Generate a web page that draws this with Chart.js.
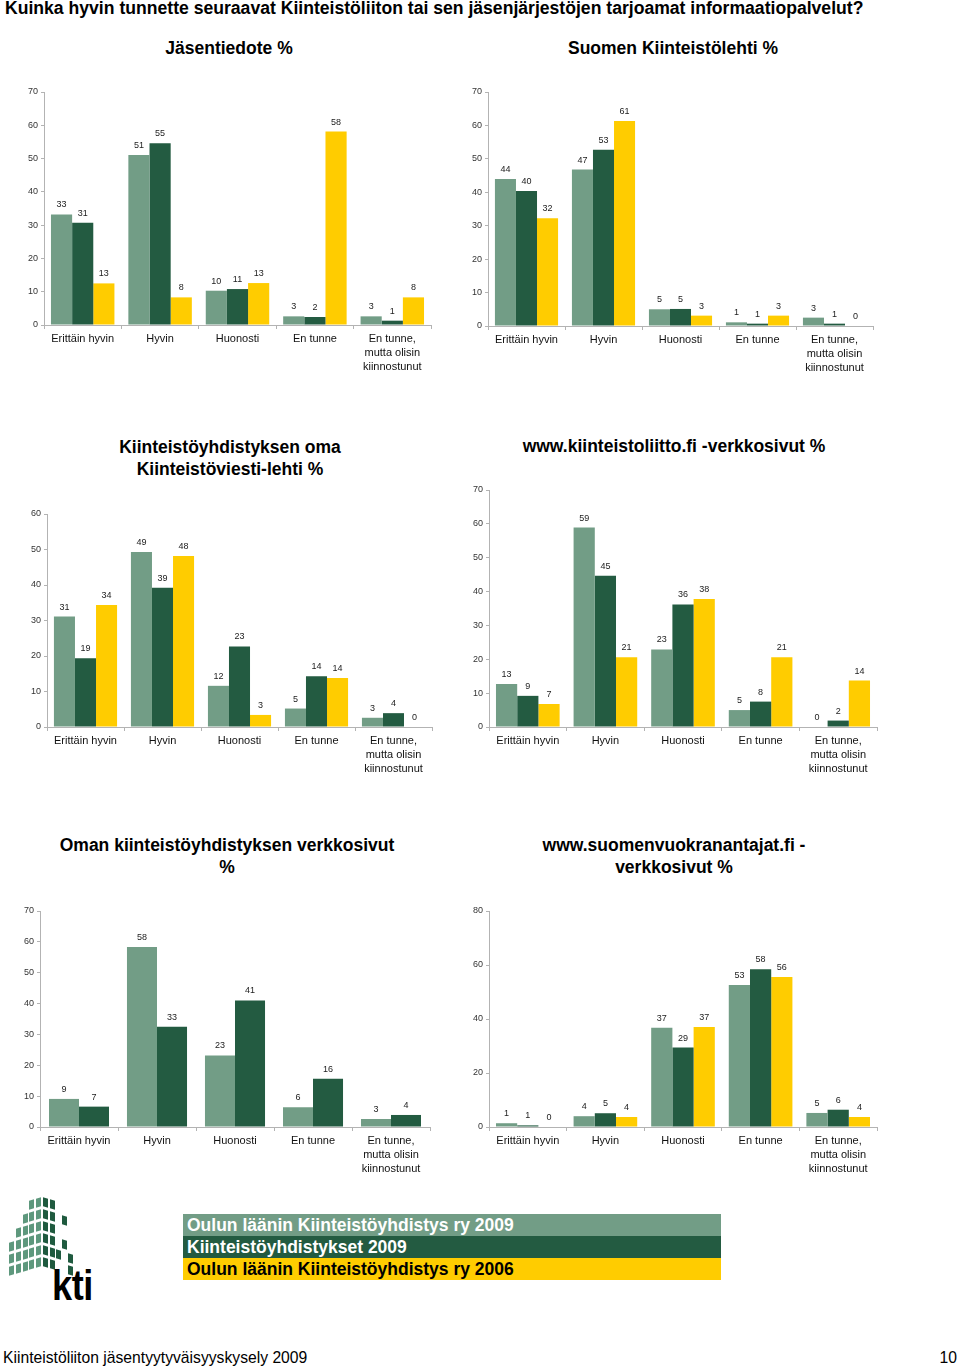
<!DOCTYPE html>
<html>
<head>
<meta charset="utf-8">
<script src="https://cdn.jsdelivr.net/npm/chart.js@4.4.1/dist/chart.umd.min.js"></script>
<style>
  body {
    margin: 0;
    width: 960px;
    height: 1369px;
    position: relative;
    overflow: hidden;
    background: #fff;
    font-family: "Liberation Sans", Arial, sans-serif;
    color: #000;
  }
  .abs { position: absolute; }
  .page-title {
    left: 5px; top: -2px;
    font-size: 17.6px; font-weight: bold; white-space: nowrap;
  }
  .chart-title {
    width: 440px; text-align: center;
    font-size: 17.5px; font-weight: bold; line-height: 22px;
  }
  .legend { left: 183px; top: 1214px; width: 538px; }
  .legend div {
    height: 22px; line-height: 22px; padding-left: 4px;
    font-size: 17.5px; font-weight: bold;
  }
  .footer { left: 3px; top: 1349px; font-size: 15.7px; }
  .page-no { right: 3px; top: 1349px; font-size: 15.7px; }
  .logo-cell { position: absolute; width: 5px; height: 9px; }
  .kti {
    left: 52px; top: 1261px; font-size: 43px; font-weight: bold; line-height: normal;
    transform: scaleX(0.84); transform-origin: left top; letter-spacing: -0.5px;
  }
</style>
</head>
<body>

<div class="abs page-title">Kuinka hyvin tunnette seuraavat Kiinteistöliiton tai sen jäsenjärjestöjen tarjoamat informaatiopalvelut?</div>

<div class="abs chart-title" style="left:9px; top:37px;">Jäsentiedote %</div>
<div class="abs chart-title" style="left:453px; top:37px;">Suomen Kiinteistölehti %</div>
<div class="abs chart-title" style="left:10px; top:436px;">Kiinteistöyhdistyksen oma<br>Kiinteistöviesti-lehti %</div>
<div class="abs chart-title" style="left:454px; top:435px;">www.kiinteistoliitto.fi -verkkosivut %</div>
<div class="abs chart-title" style="left:7px; top:834px;">Oman kiinteistöyhdistyksen verkkosivut<br>%</div>
<div class="abs chart-title" style="left:454px; top:834px;">www.suomenvuokranantajat.fi -<br>verkkosivut %</div>

<canvas id="c1" class="abs"></canvas>
<canvas id="c2" class="abs"></canvas>
<canvas id="c3" class="abs"></canvas>
<canvas id="c4" class="abs"></canvas>
<canvas id="c5" class="abs"></canvas>
<canvas id="c6" class="abs"></canvas>

<div id="logo"></div>
<div class="abs kti">kti</div>

<div class="abs legend" id="legend"></div>

<div class="abs footer">Kiinteistöliiton jäsentyytyväisyyskysely 2009</div>
<div class="abs page-no">10</div>

<script>
const categories = ['Erittäin hyvin', 'Hyvin', 'Huonosti', 'En tunne', ['En tunne,', 'mutta olisin', 'kiinnostunut']];
const seriesNames = ['Oulun läänin Kiinteistöyhdistys ry 2009', 'Kiinteistöyhdistykset 2009', 'Oulun läänin Kiinteistöyhdistys ry 2006'];
const seriesColors = ['#729d86', '#235b41', '#ffcc00'];
const seriesTextColors = ['#fff', '#fff', '#000'];

// Jäsentiedote %
const jasentiedoteOulu09 = [33.2, 51.1, 10.3, 2.6, 2.6];
const jasentiedoteKaikki09 = [30.7, 54.6, 10.8, 2.4, 1.3];
const jasentiedoteOulu06 = [12.5, 8.3, 12.6, 58.1, 8.3];

// Suomen Kiinteistölehti %
const lehtiOulu09 = [44.0, 46.8, 5.0, 1.1, 2.5];
const lehtiKaikki09 = [40.4, 52.7, 5.1, 0.7, 0.7];
const lehtiOulu06 = [32.2, 61.3, 3.1, 3.1, 0];

// Kiinteistöyhdistyksen oma Kiinteistöviesti-lehti %
const viestiOulu09 = [31.1, 49.3, 11.6, 5.2, 2.6];
const viestiKaikki09 = [19.4, 39.2, 22.7, 14.3, 3.9];
const viestiOulu06 = [34.4, 48.2, 3.4, 13.8, 0];

// www.kiinteistoliitto.fi -verkkosivut %
const liittoOulu09 = [12.7, 58.9, 22.9, 5.0, 0];
const liittoKaikki09 = [9.2, 44.7, 36.2, 7.5, 1.9];
const liittoOulu06 = [6.8, 20.6, 37.8, 20.6, 13.7];

// Oman kiinteistöyhdistyksen verkkosivut %
const omaOulu09 = [9.1, 58.3, 23.2, 6.4, 2.6];
const omaKaikki09 = [6.6, 32.5, 41.0, 15.6, 3.9];

// www.suomenvuokranantajat.fi -verkkosivut %
const vuokraOulu09 = [1.4, 4.0, 36.8, 52.6, 5.2];
const vuokraKaikki09 = [0.6, 5.1, 29.4, 58.4, 6.4];
const vuokraOulu06 = [0, 3.7, 37.0, 55.6, 3.7];

const FONT = '"Liberation Sans", Arial, sans-serif';
const AXIS_COLOR = '#b3b3b3';

const valueLabels = {
  id: 'valueLabels',
  afterDatasetsDraw(chart) {
    const ctx = chart.ctx;
    ctx.save();
    ctx.font = '9px ' + FONT;
    ctx.fillStyle = '#222';
    ctx.textAlign = 'center';
    ctx.textBaseline = 'alphabetic';
    chart.data.datasets.forEach((ds, i) => {
      chart.getDatasetMeta(i).data.forEach((bar, j) => {
        ctx.fillText(String(Math.round(ds.data[j])), bar.x, bar.y - 7);
      });
    });
    ctx.restore();
  }
};

const makeChart = (id, box, yMax, yStep, series) => {
  const yWidth = 40, xHeight = 60, padTop = 12, padRight = 14;
  const canvas = document.getElementById(id);
  canvas.width = box.right - box.axisX + yWidth + padRight;
  canvas.height = box.bottom - box.top + padTop + xHeight;
  canvas.style.left = (box.axisX - yWidth) + 'px';
  canvas.style.top = (box.top - padTop) + 'px';

  new Chart(canvas, {
    type: 'bar',
    data: {
      labels: categories,
      datasets: series.map((data, i) => ({
        label: seriesNames[i],
        data: data,
        backgroundColor: seriesColors[i],
        borderWidth: 0,
        barPercentage: 1,
        categoryPercentage: series.length === 2 ? 0.77 : 0.82,
      })),
    },
    options: {
      responsive: false,
      animation: false,
      layout: { padding: { top: padTop, right: padRight, left: 0, bottom: 0 } },
      plugins: {
        legend: { display: false },
        tooltip: { enabled: false },
      },
      scales: {
        x: {
          afterFit: (scale) => { scale.height = xHeight; },
          grid: { drawOnChartArea: false, tickLength: 4, color: AXIS_COLOR, offset: true },
          border: { color: AXIS_COLOR },
          ticks: {
            font: { family: FONT, size: 11, lineHeight: 1.27 },
            color: '#111',
            padding: 3,
            maxRotation: 0,
            autoSkip: false,
          },
        },
        y: {
          min: 0,
          max: yMax,
          afterFit: (scale) => { scale.width = yWidth; },
          grid: { drawOnChartArea: false, tickLength: 3, color: AXIS_COLOR },
          border: { color: AXIS_COLOR },
          ticks: {
            stepSize: yStep,
            font: { family: FONT, size: 9 },
            color: '#333',
            padding: 3,
          },
        },
      },
    },
    plugins: [valueLabels],
  });
};

makeChart('c1', { axisX: 44, top: 92, bottom: 325, right: 431 }, 70, 10,
  [jasentiedoteOulu09, jasentiedoteKaikki09, jasentiedoteOulu06]);
makeChart('c2', { axisX: 488, top: 92, bottom: 326, right: 873 }, 70, 10,
  [lehtiOulu09, lehtiKaikki09, lehtiOulu06]);
makeChart('c3', { axisX: 47, top: 514, bottom: 727, right: 432 }, 60, 10,
  [viestiOulu09, viestiKaikki09, viestiOulu06]);
makeChart('c4', { axisX: 489, top: 490, bottom: 727, right: 877 }, 70, 10,
  [liittoOulu09, liittoKaikki09, liittoOulu06]);
makeChart('c5', { axisX: 40, top: 911, bottom: 1127, right: 430 }, 70, 10,
  [omaOulu09, omaKaikki09]);
makeChart('c6', { axisX: 489, top: 911, bottom: 1127, right: 877 }, 80, 20,
  [vuokraOulu09, vuokraKaikki09, vuokraOulu06]);

// legend
const legend = document.getElementById('legend');
seriesNames.forEach((name, i) => {
  const row = document.createElement('div');
  row.textContent = name;
  row.style.background = seriesColors[i];
  row.style.color = seriesTextColors[i];
  legend.appendChild(row);
});

// kti logo squares (decoration)
const logoCols = [9, 16, 23, 29, 36, 43, 50, 56, 62, 68];
const logoMask = [
  '...LLDD...',
  '..LLLDD.D.',
  '.LLLLDD...',
  'LLLLLDD.D.',
  'LLLLLDDD.D',
  'LLLLLDD..D',
];
const logo = document.getElementById('logo');
logoMask.forEach((row, r) => {
  [...row].forEach((ch, c) => {
    if (ch === '.') return;
    const cell = document.createElement('div');
    cell.className = 'logo-cell';
    cell.style.left = logoCols[c] + 'px';
    cell.style.top = (1198 + r * 12 + (ch === 'L' ? (4 - c) * 2 : (c - 5) * 2)) + 'px';
    cell.style.background = ch === 'L' ? '#5e987d' : '#1f5a3f';
    cell.style.transform = ch === 'L' ? 'skewY(-18deg)' : 'skewY(18deg)';
    logo.appendChild(cell);
  });
});
</script>
</body>
</html>
